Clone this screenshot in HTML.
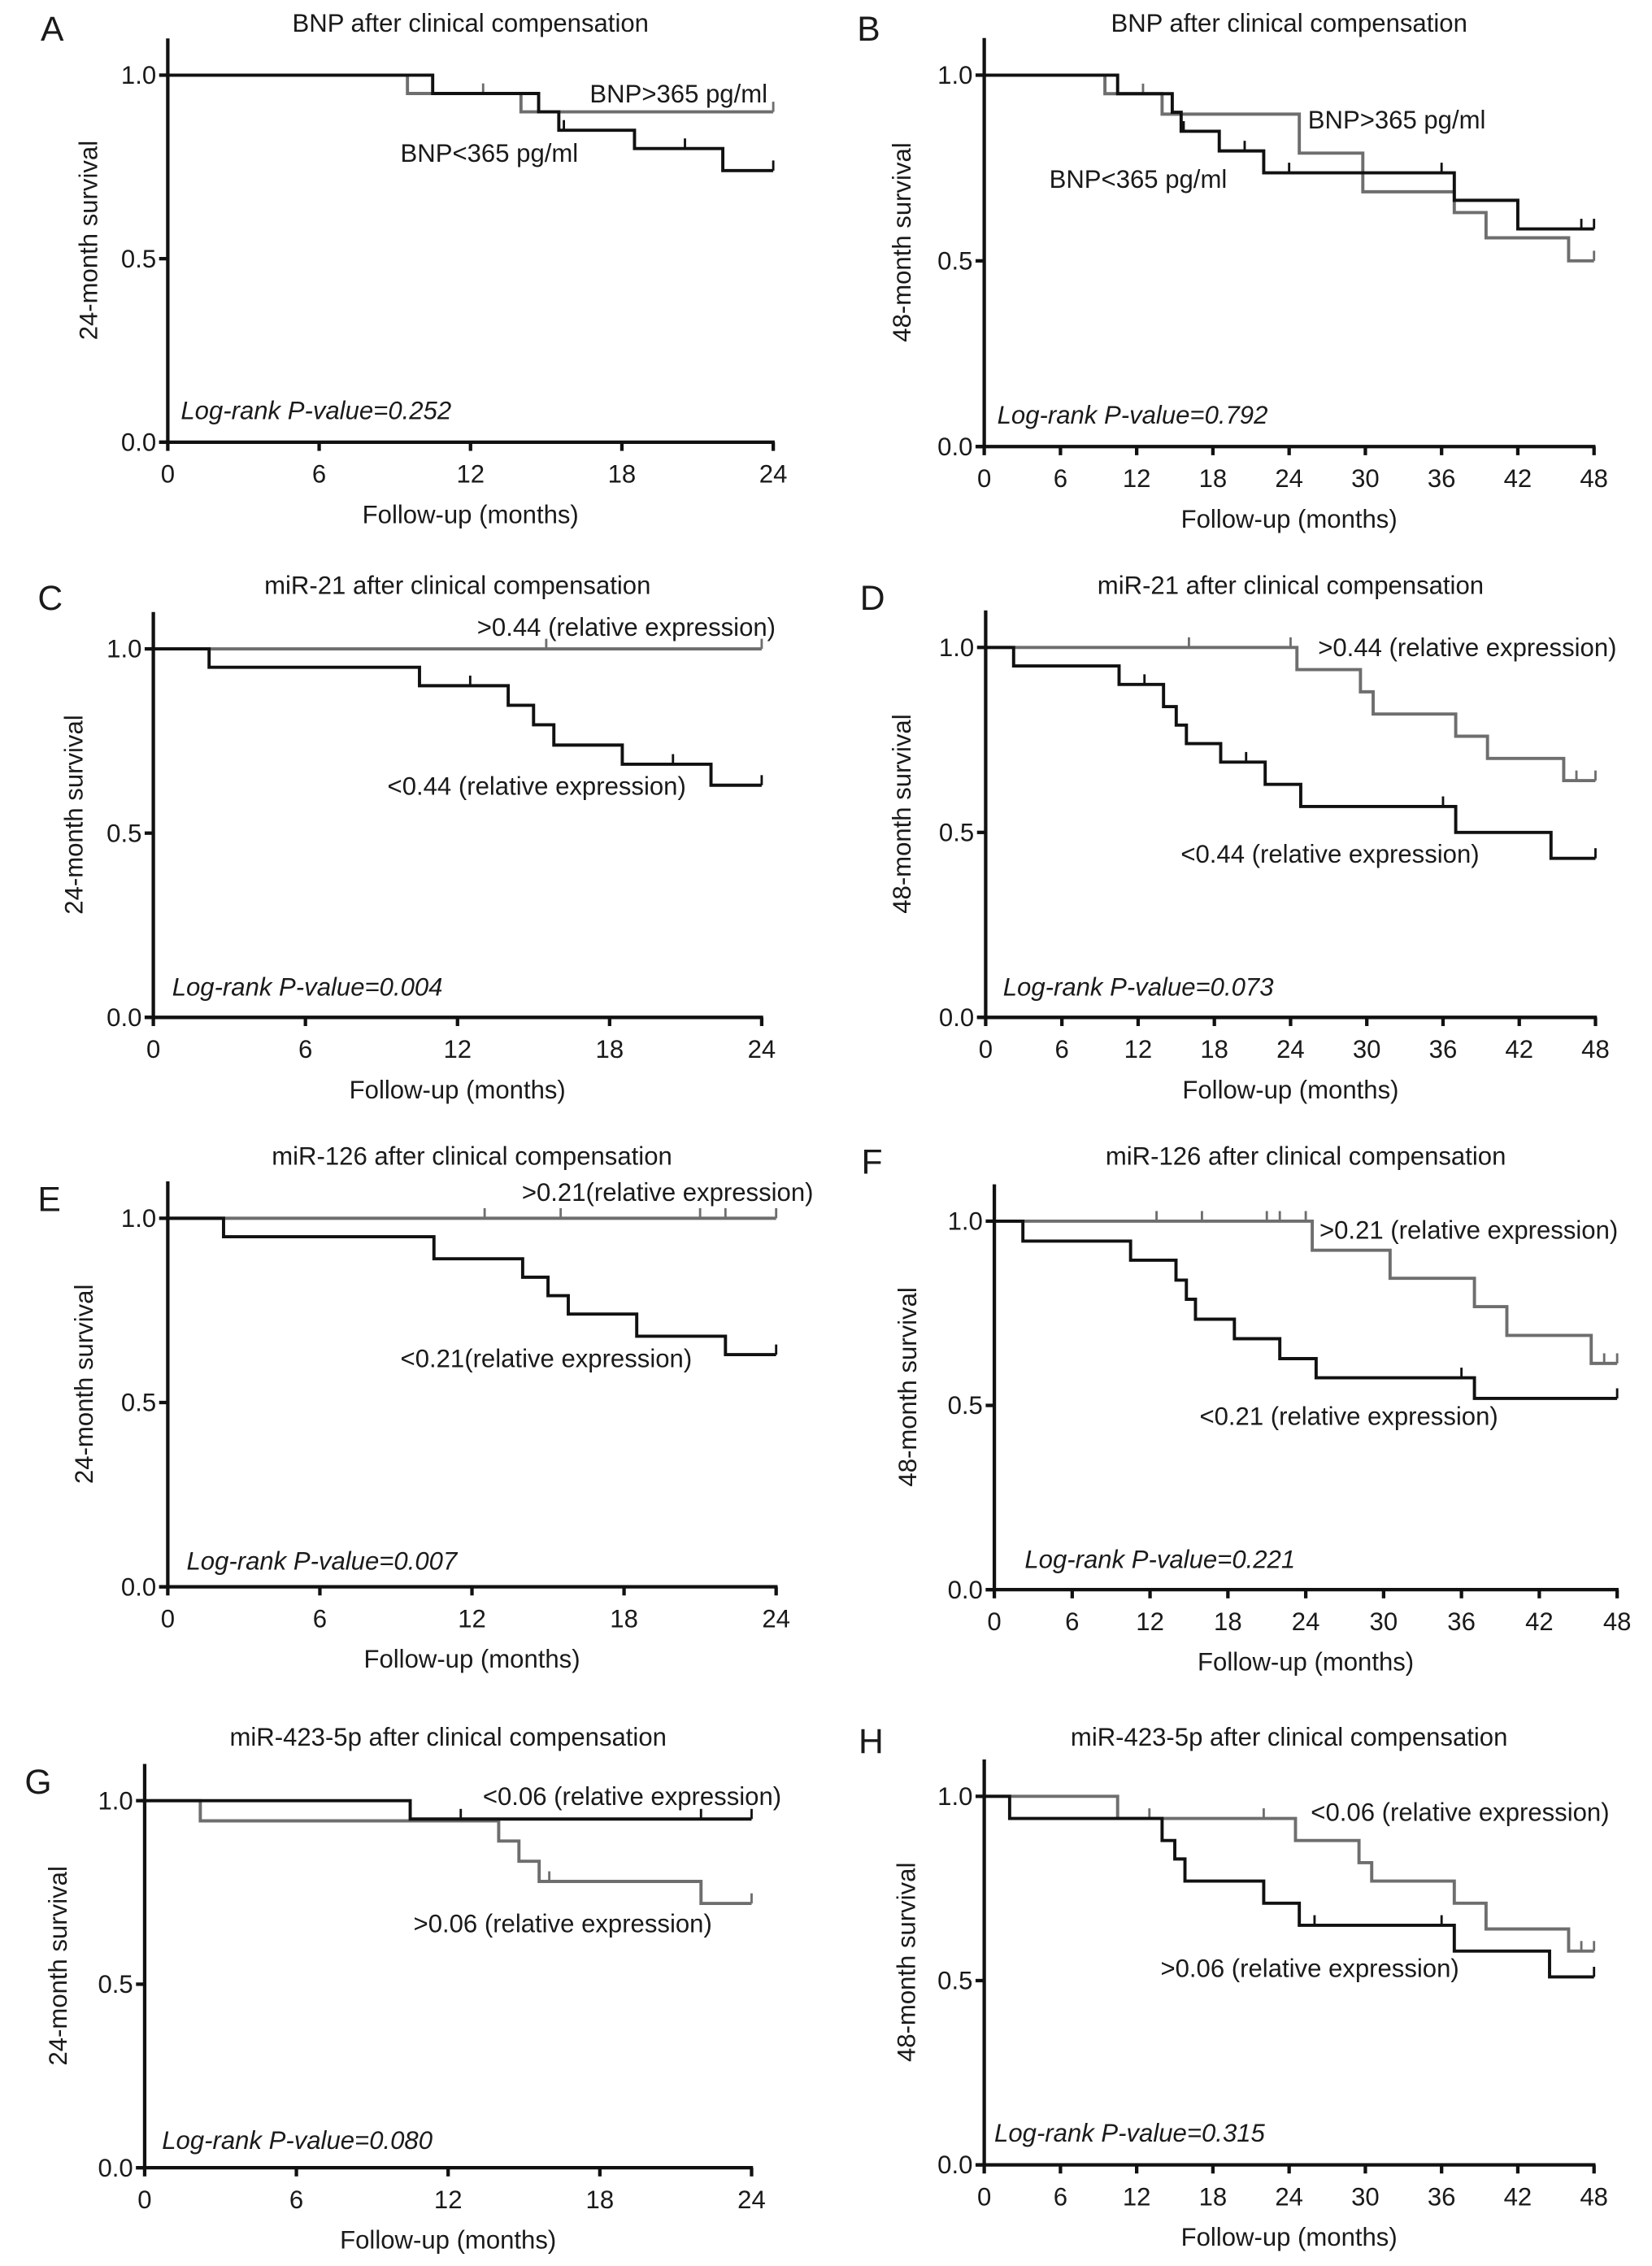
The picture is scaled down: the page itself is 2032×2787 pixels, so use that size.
<!DOCTYPE html>
<html><head><meta charset="utf-8"><style>
html,body{margin:0;padding:0;background:#fff}
svg{display:block}
text{font-family:"Liberation Sans",sans-serif;fill:#1a1a1a}
</style></head><body>
<svg id="fig" width="2032" height="2787" viewBox="0 0 1143 1568" xmlns="http://www.w3.org/2000/svg"></svg>
<script>
// ---- data (step times in months, survival after each step) ----
const A_grayT=[9.5,14];           const A_grayS=[0.95,0.9];      const A_grayC=[12.5,24];
const A_blackT=[10.5,14.7,15.5,18.5,22]; const A_blackS=[0.95,0.9,0.85,0.8,0.74]; const A_blackC=[15.7,20.5,24];
const B_grayT=[9.5,14,24.8,29.8,37,39.5,46]; const B_grayS=[0.95,0.895,0.79,0.686,0.63,0.562,0.5]; const B_grayC=[12.5,48];
const B_blackT=[10.5,14.8,15.5,18.5,22,37,42]; const B_blackS=[0.95,0.9,0.849,0.796,0.737,0.663,0.586]; const B_blackC=[15.7,20.5,24,36,47,48];
const C_grayT=[]; const C_grayS=[]; const C_grayC=[15.5,24];
const C_blackT=[2.2,10.5,14,15,15.8,18.5,22]; const C_blackS=[0.95,0.9,0.847,0.794,0.739,0.687,0.63]; const C_blackC=[12.5,20.5,22,24];
const D_grayT=[24.5,29.5,30.5,37,39.5,45.5]; const D_grayS=[0.94,0.88,0.82,0.76,0.7,0.64]; const D_grayC=[16,24,46.5,48];
const D_blackT=[2.2,10.5,14,15,15.8,18.5,22,24.8,37,44.5]; const D_blackS=[0.95,0.9,0.84,0.79,0.74,0.69,0.63,0.57,0.5,0.43]; const D_blackC=[12.5,20.5,22,36,48];
const E_grayT=[]; const E_grayS=[]; const E_grayC=[12.5,15.5,21,22,24];
const E_blackT=[2.2,10.5,14,15,15.8,18.5,22]; const E_blackS=[0.95,0.89,0.84,0.79,0.74,0.68,0.63]; const E_blackC=[24];
const F_grayT=[24.5,30.5,37,39.5,46]; const F_grayS=[0.921,0.845,0.768,0.69,0.614]; const F_grayC=[12.5,16,21,22,24,47,48];
const F_blackT=[2.2,10.5,14,14.8,15.5,18.5,22,24.8,37]; const F_blackS=[0.946,0.894,0.84,0.788,0.734,0.681,0.627,0.575,0.519]; const F_blackC=[36,48];
const G_blackT=[10.5]; const G_blackS=[0.95]; const G_blackC=[12.5,22,24];
const G_grayT=[2.2,14,14.8,15.6,22]; const G_grayS=[0.945,0.89,0.835,0.78,0.72]; const G_grayC=[16,24];
const H_grayT=[10.5,24.5,29.5,30.5,37,39.5,46]; const H_grayS=[0.94,0.88,0.82,0.77,0.71,0.64,0.58]; const H_grayC=[13,22,47,48];
const H_blackT=[2,14,15,15.8,22,24.8,37,44.5]; const H_blackS=[0.94,0.88,0.83,0.77,0.71,0.65,0.58,0.51]; const H_blackC=[26,36,48];
const yTicks=[0,0.5,1.0];
const yTickLabels=["0.0","0.5","1.0"];
const xTicks24=[0,6,12,18,24];
const xTicks48=[0,6,12,18,24,30,36,42,48];

const panels=[
 {id:'a',L:'A',lx:28,ly:28,ty:22,title:'BNP after clinical compensation',x0:116,x1:535,y1:52,y0:306,xmax:24,ytitle:'24-month survival',ytx:67,p:'Log-rank P-value=0.252',px:125,py:290,
  series:[[A_grayT,A_grayS,A_grayC,'#6e6e6e','bnp-high'],[A_blackT,A_blackS,A_blackC,'#111','bnp-low']],
  labels:[['BNP>365 pg/ml',408,71],['BNP<365 pg/ml',277,112]]},
 {id:'b',L:'B',lx:593,ly:28,ty:22,title:'BNP after clinical compensation',x0:681,x1:1103,y1:52,y0:309,xmax:48,ytitle:'48-month survival',ytx:630,p:'Log-rank P-value=0.792',px:690,py:293,
  series:[[B_grayT,B_grayS,B_grayC,'#6e6e6e','bnp-high'],[B_blackT,B_blackS,B_blackC,'#111','bnp-low']],
  labels:[['BNP>365 pg/ml',905,89],['BNP<365 pg/ml',726,130]]},
 {id:'c',L:'C',lx:26,ly:422,ty:411,title:'miR-21 after clinical compensation',x0:106,x1:527,y1:449,y0:704,xmax:24,ytitle:'24-month survival',ytx:57,p:'Log-rank P-value=0.004',px:119,py:689,
  series:[[C_grayT,C_grayS,C_grayC,'#6e6e6e','mir21-high'],[C_blackT,C_blackS,C_blackC,'#111','mir21-low']],
  labels:[['>0.44 (relative expression)',330,440],['<0.44 (relative expression)',268,550]]},
 {id:'d',L:'D',lx:595,ly:422,ty:411,title:'miR-21 after clinical compensation',x0:682,x1:1104,y1:448,y0:704,xmax:48,ytitle:'48-month survival',ytx:630,p:'Log-rank P-value=0.073',px:694,py:689,
  series:[[D_grayT,D_grayS,D_grayC,'#6e6e6e','mir21-high'],[D_blackT,D_blackS,D_blackC,'#111','mir21-low']],
  labels:[['>0.44 (relative expression)',912,454],['<0.44 (relative expression)',817,597]]},
 {id:'e',L:'E',lx:26,ly:838,ty:806,title:'miR-126 after clinical compensation',x0:116,x1:537,y1:843,y0:1098,xmax:24,ytitle:'24-month survival',ytx:64,p:'Log-rank P-value=0.007',px:129,py:1086,
  series:[[E_grayT,E_grayS,E_grayC,'#6e6e6e','mir126-high'],[E_blackT,E_blackS,E_blackC,'#111','mir126-low']],
  labels:[['>0.21(relative expression)',361,831],['<0.21(relative expression)',277,946]]},
 {id:'f',L:'F',lx:596,ly:812,ty:806,title:'miR-126 after clinical compensation',x0:688,x1:1119,y1:845,y0:1100,xmax:48,ytitle:'48-month survival',ytx:634,p:'Log-rank P-value=0.221',px:709,py:1085,
  series:[[F_grayT,F_grayS,F_grayC,'#6e6e6e','mir126-high'],[F_blackT,F_blackS,F_blackC,'#111','mir126-low']],
  labels:[['>0.21 (relative expression)',913,857],['<0.21 (relative expression)',830,986]]},
 {id:'g',L:'G',lx:17,ly:1241,ty:1208,title:'miR-423-5p after clinical compensation',x0:100,x1:520,y1:1246,y0:1500,xmax:24,ytitle:'24-month survival',ytx:46,p:'Log-rank P-value=0.080',px:112,py:1487,
  series:[[G_grayT,G_grayS,G_grayC,'#6e6e6e','mir423-high'],[G_blackT,G_blackS,G_blackC,'#111','mir423-low']],
  labels:[['<0.06 (relative expression)',334,1249],['>0.06 (relative expression)',286,1337]]},
 {id:'h',L:'H',lx:594,ly:1213,ty:1208,title:'miR-423-5p after clinical compensation',x0:681,x1:1103,y1:1243,y0:1498,xmax:48,ytitle:'48-month survival',ytx:633,p:'Log-rank P-value=0.315',px:688,py:1482,
  series:[[H_grayT,H_grayS,H_grayC,'#6e6e6e','mir423-low'],[H_blackT,H_blackS,H_blackC,'#111','mir423-high']],
  labels:[['<0.06 (relative expression)',907,1260],['>0.06 (relative expression)',803,1368]]}
];
const FS=17.5;
const NS='http://www.w3.org/2000/svg';
const svg=document.getElementById('fig');
function mk(tag,attrs,parent){const e=document.createElementNS(NS,tag);for(const k in attrs)e.setAttribute(k,attrs[k]);(parent||svg).appendChild(e);return e;}
panels.forEach(P=>{
  const g=mk('g',{});
  
  
  const sx=v=>P.x0+(P.x1-P.x0)*v/P.xmax;
  const sy=v=>P.y0-(P.y0-P.y1)*v;
  const yTop=sy(1.1);
  const lt=mk('text',{x:P.lx,y:P.ly,'font-size':24},g);lt.textContent=P.L;
  
  
  const tt=mk('text',{x:(P.x0+P.x1)/2,y:P.ty,'font-size':FS,'text-anchor':'middle'},g);tt.textContent=P.title;
  
  
  P.series.forEach(s=>{
    const [T,S,C,col,nm]=s;
    let d='M'+sx(0)+','+sy(1);
    T.forEach((t,i)=>{d+=' H'+sx(t)+' V'+sy(S[i]);});
    d+=' H'+sx(P.xmax);
    const path=mk('path',{d:d,fill:'none',stroke:col,'stroke-width':2.2},g);
    
    
    C.forEach(c=>{
      let v=1;T.forEach((t,i)=>{if(t<=c)v=S[i];});
      const m=mk('line',{x1:sx(c),x2:sx(c),y1:sy(v),y2:sy(v)-7,stroke:col,'stroke-width':1.6},g);
      
      
    });
  });
  const ya=mk('line',{x1:P.x0,x2:P.x0,y1:yTop,y2:P.y0,stroke:'#111','stroke-width':2.4},g);
  
  
  const xa=mk('line',{x1:P.x0-6,x2:P.x1+1,y1:P.y0,y2:P.y0,stroke:'#111','stroke-width':2.4},g);
  
  
  yTicks.forEach((v,i)=>{
    mk('line',{x1:P.x0-6,x2:P.x0,y1:sy(v),y2:sy(v),stroke:'#111','stroke-width':2.4},g);
    const t=mk('text',{x:P.x0-8,y:sy(v)+6,'font-size':FS,'text-anchor':'end'},g);t.textContent=yTickLabels[i];
    
    
  });
  (P.xmax===24?xTicks24:xTicks48).forEach(v=>{
    mk('line',{x1:sx(v),x2:sx(v),y1:P.y0,y2:P.y0+6,stroke:'#111','stroke-width':2.4},g);
    const t=mk('text',{x:sx(v),y:P.y0+28,'font-size':FS,'text-anchor':'middle'},g);t.textContent=v;
    
    
  });
  const xt=mk('text',{x:(P.x0+P.x1)/2,y:P.y0+56,'font-size':FS,'text-anchor':'middle'},g);xt.textContent='Follow-up (months)';
  
  
  const cy=(yTop+P.y0)/2;
  const yt=mk('text',{x:P.ytx,y:cy,'font-size':FS,'text-anchor':'middle',transform:`rotate(-90 ${P.ytx} ${cy})`},g);yt.textContent=P.ytitle;
  
  
  const pv=mk('text',{x:P.px,y:P.py,'font-size':FS,'font-style':'italic'},g);pv.textContent=P.p;
  
  
  P.labels.forEach(l=>{
    const t=mk('text',{x:l[1],y:l[2],'font-size':FS},g);t.textContent=l[0];
    
    
  });
});
</script>
</body></html>
